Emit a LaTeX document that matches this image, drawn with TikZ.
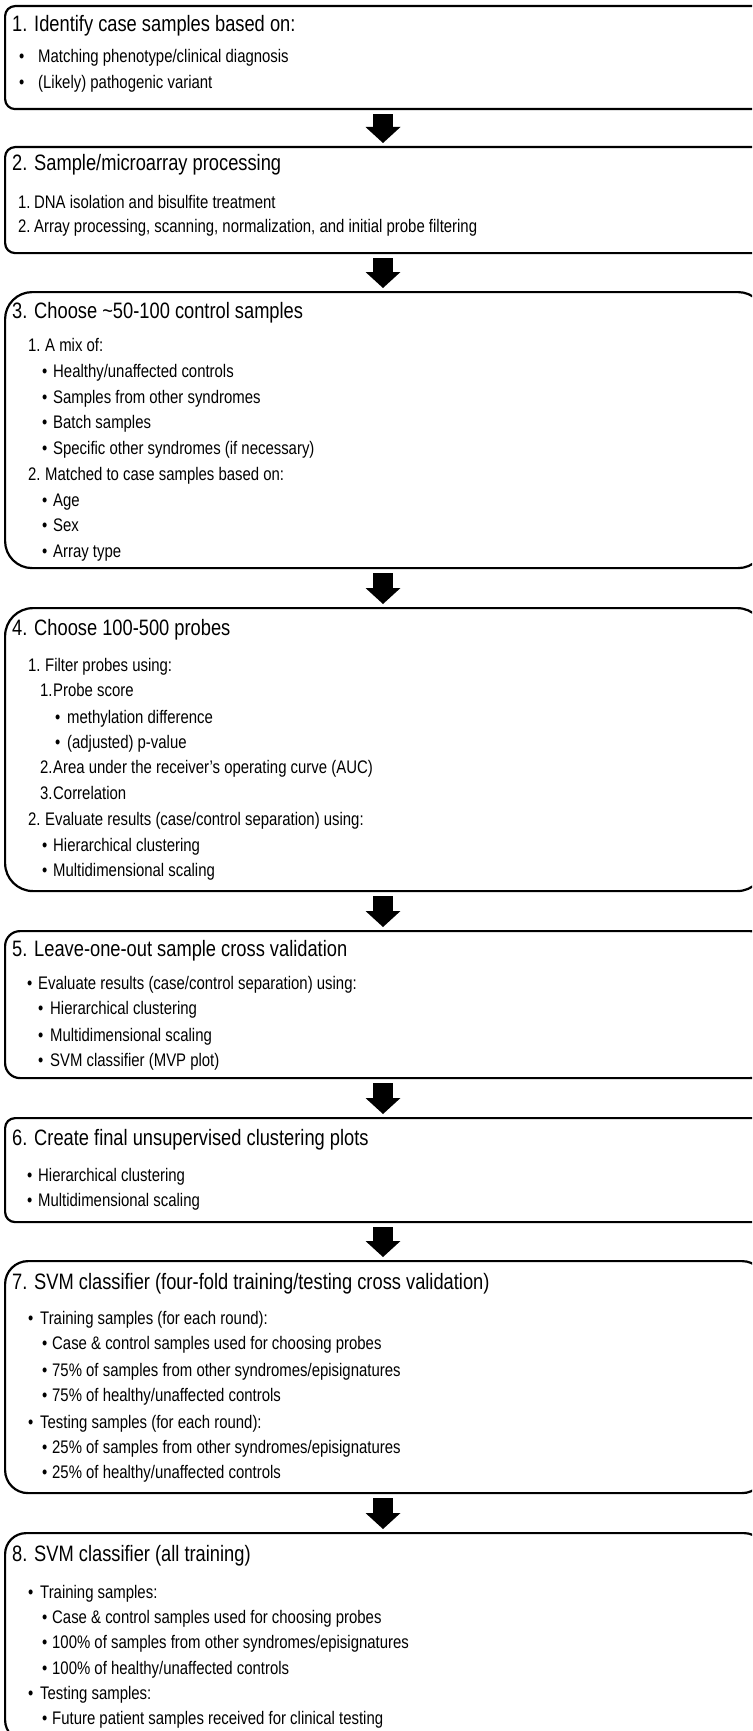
\documentclass[tikz,border=0pt]{standalone}
\usepackage{fontspec}
\setmainfont{Liberation Sans}[FakeStretch=0.82]
\usetikzlibrary{arrows.meta,calc}
\newcommand\Li[6]{\node[bd] (#1) at (#2,#4) {\makebox[\dimexpr #3pt-#2pt\relax][l]{#5}#6};}
\begin{document}
\begin{tikzpicture}[x=1pt,y=-1pt,
  stepbox/.style={draw=black,line width=2.2pt,fill=white,anchor=north west,inner sep=0pt,minimum width=760pt},
  ttl/.style={anchor=base west,inner sep=0pt,font=\fontsize{22.3}{26}\selectfont},
  bd/.style={anchor=base west,inner sep=0pt,font=\fontsize{18.2}{22}\selectfont},
  arr/.style={line width=20pt,-{Triangle[width=35pt,length=16pt,line width=0pt]},shorten <=4pt,shorten >=3pt}]
\useasboundingbox (0,0) rectangle (752,1731);
\clip (0,0) rectangle (752,1731);
\fill[white] (0,0) rectangle (752,1731);
\coordinate (ax) at (383,0);
% boxes
\node[stepbox,minimum height=103pt,rounded corners=10pt] (b1) at (4,5) {};
\node[stepbox,minimum height=106pt,rounded corners=10pt] (b2) at (4,146) {};
\node[stepbox,minimum height=276pt,rounded corners=27pt] (b3) at (4,291) {};
\node[stepbox,minimum height=283pt,rounded corners=28pt] (b4) at (4,607) {};
\node[stepbox,minimum height=147pt,rounded corners=15pt] (b5) at (4,930) {};
\node[stepbox,minimum height=104pt,rounded corners=10pt] (b6) at (4,1117) {};
\node[stepbox,minimum height=232pt,rounded corners=23pt] (b7) at (4,1260) {};
\node[stepbox,minimum height=208pt,rounded corners=21pt] (b8) at (4,1532) {};
% arrows
\draw[arr] (b1.south -| ax) -- (b2.north -| ax);
\draw[arr] (b2.south -| ax) -- (b3.north -| ax);
\draw[arr] (b3.south -| ax) -- (b4.north -| ax);
\draw[arr] (b4.south -| ax) -- (b5.north -| ax);
\draw[arr] (b5.south -| ax) -- (b6.north -| ax);
\draw[arr] (b6.south -| ax) -- (b7.north -| ax);
\draw[arr] (b7.south -| ax) -- (b8.north -| ax);
% box 1
\node[ttl] (t1) at (12,32) {1. Identify case samples based on:};
\Li{t1a}{19}{38}{63}{•}{Matching phenotype/clinical diagnosis}
\Li{t1b}{19}{38}{88.5}{•}{(Likely) pathogenic variant}
% box 2
\node[ttl] (t2) at (12,171) {2. Sample/microarray processing};
\Li{t2a}{18}{34}{208.5}{1.}{DNA isolation and bisulfite treatment}
\Li{t2b}{18}{34}{233}{2.}{Array processing, scanning, normalization, and initial probe filtering}
% box 3
\node[ttl] (t3) at (12,318) {3. Choose \textasciitilde50-100 control samples};
\Li{t3a}{28}{45}{351.5}{1.}{A mix of:}
\Li{t3b}{42}{53}{377}{•}{Healthy/unaffected controls}
\Li{t3c}{42}{53}{403}{•}{Samples from other syndromes}
\Li{t3d}{42}{53}{428.5}{•}{Batch samples}
\Li{t3e}{42}{53}{454.5}{•}{Specific other syndromes (if necessary)}
\Li{t3f}{28}{45}{480}{2.}{Matched to case samples based on:}
\Li{t3g}{42}{53}{506}{•}{Age}
\Li{t3h}{42}{53}{531.5}{•}{Sex}
\Li{t3i}{42}{53}{557}{•}{Array type}
% box 4
\node[ttl] (t4) at (12,635) {4. Choose 100-500 probes};
\Li{t4a}{28}{45}{671.5}{1.}{Filter probes using:}
\Li{t4b}{40}{53}{696.5}{1.}{Probe score}
\Li{t4c}{55}{67}{723}{•}{methylation difference}
\Li{t4d}{55}{67}{748.5}{•}{(adjusted) p-value}
\Li{t4e}{40}{53}{773.5}{2.}{Area under the receiver’s operating curve (AUC)}
\Li{t4f}{40}{53}{799}{3.}{Correlation}
\Li{t4g}{28}{45}{825}{2.}{Evaluate results (case/control separation) using:}
\Li{t4h}{42}{53}{851}{•}{Hierarchical clustering}
\Li{t4i}{42}{53}{876.5}{•}{Multidimensional scaling}
% box 5
\node[ttl] (t5) at (12,956) {5. Leave-one-out sample cross validation};
\Li{t5a}{27}{38}{989.5}{•}{Evaluate results (case/control separation) using:}
\Li{t5b}{38}{50}{1014.5}{•}{Hierarchical clustering}
\Li{t5c}{38}{50}{1041}{•}{Multidimensional scaling}
\Li{t5d}{38}{50}{1066.5}{•}{SVM classifier (MVP plot)}
% box 6
\node[ttl] (t6) at (12,1145) {6. Create final unsupervised clustering plots};
\Li{t6a}{27}{38}{1181.5}{•}{Hierarchical clustering}
\Li{t6b}{27}{38}{1206.5}{•}{Multidimensional scaling}
% box 7
\node[ttl] (t7) at (12,1289) {7. SVM classifier (four-fold training/testing cross validation)};
\Li{t7a}{28}{40}{1324.5}{•}{Training samples (for each round):}
\Li{t7b}{42}{52}{1349.5}{•}{Case \& control samples used for choosing probes}
\Li{t7c}{42}{52}{1376}{•}{75\% of samples from other syndromes/episignatures}
\Li{t7d}{42}{52}{1401.5}{•}{75\% of healthy/unaffected controls}
\Li{t7e}{28}{40}{1428}{•}{Testing samples (for each round):}
\Li{t7f}{42}{52}{1453.5}{•}{25\% of samples from other syndromes/episignatures}
\Li{t7g}{42}{52}{1478.5}{•}{25\% of healthy/unaffected controls}
% box 8
\node[ttl] (t8) at (12,1561) {8. SVM classifier (all training)};
\Li{t8a}{28}{40}{1598.5}{•}{Training samples:}
\Li{t8b}{42}{52}{1623.5}{•}{Case \& control samples used for choosing probes}
\Li{t8c}{42}{52}{1648.5}{•}{100\% of samples from other syndromes/episignatures}
\Li{t8d}{42}{52}{1674}{•}{100\% of healthy/unaffected controls}
\Li{t8e}{28}{40}{1699.5}{•}{Testing samples:}
\Li{t8f}{42}{52}{1724.5}{•}{Future patient samples received for clinical testing}
\end{tikzpicture}
\end{document}
